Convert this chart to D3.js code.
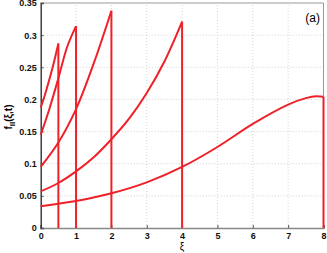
<!DOCTYPE html>
<meta charset="utf-8">
<title>f_II(xi,t)</title>
<script src="https://d3js.org/d3.v7.min.js"></script>
<style>
  body { margin: 0; background: #fff; }
  text { font-family: "Liberation Sans", Arial, sans-serif; }
</style>
<body>
<script>

// chart size
const width = 327, height = 253;
const margin = { top: 3, right: 3.5, bottom: 25, left: 40.7 };

// data: one curve per domain length L
const lengths = [0.5, 1, 2, 4, 8];
const xi05 = [0, 0.125, 0.25, 0.375, 0.5];
const f05 = [0.187, 0.208, 0.232, 0.258, 0.287];
const xi1 = [0, 0.25, 0.5, 0.75, 1];
const f1 = [0.145, 0.186, 0.233, 0.282, 0.314];
const xi2 = [0, 0.5, 1, 1.5, 2];
const f2 = [0.095, 0.133, 0.185, 0.256, 0.338];
const xi4 = [0, 0.5, 1, 1.5, 2, 2.5, 3, 3.5, 4];
const f4 = [0.057, 0.07, 0.088, 0.11, 0.138, 0.17, 0.21, 0.259, 0.321];
const xi8 = [0, 1, 2, 3, 4, 5, 6, 7, 7.5, 7.8, 8];
const f8 = [0.034, 0.042, 0.054, 0.071, 0.095, 0.126, 0.162, 0.192, 0.202, 0.205, 0.204];

const xTicks = [0, 1, 2, 3, 4, 5, 6, 7, 8];
const yTicks = [0, 0.05, 0.1, 0.15, 0.2, 0.25, 0.3, 0.35];

const series = [[xi05, f05], [xi1, f1], [xi2, f2], [xi4, f4], [xi8, f8]];

const svg = d3.select("body").append("svg")
  .attr("width", width)
  .attr("height", height);

const x = d3.scaleLinear().domain([0, 8]).range([margin.left, width - margin.right]);
const y = d3.scaleLinear().domain([0, 0.35]).range([height - margin.bottom, margin.top]);

// grid
svg.append("g")
  .selectAll("line.gx")
  .data(xTicks.slice(1, -1))
  .enter().append("line")
  .attr("x1", d => x(d)).attr("x2", d => x(d))
  .attr("y1", y(0)).attr("y2", y(0.35))
  .attr("stroke", "#c8c8c8").attr("stroke-width", 0.8)
  .attr("stroke-dasharray", "1,2");
svg.append("g")
  .selectAll("line.gy")
  .data(yTicks.slice(1, -1))
  .enter().append("line")
  .attr("x1", x(0)).attr("x2", x(8))
  .attr("y1", d => y(d)).attr("y2", d => y(d))
  .attr("stroke", "#c8c8c8").attr("stroke-width", 0.8)
  .attr("stroke-dasharray", "1,2");

// box top/right
svg.append("path")
  .attr("d", `M${x(0)},${y(0.35)}H${x(8)}V${y(0)}`)
  .attr("fill", "none").attr("stroke", "#999").attr("stroke-width", 1);

// axes
const xAxis = svg.append("g")
  .attr("transform", `translate(0,${y(0)})`)
  .call(d3.axisBottom(x).tickValues(xTicks).tickSize(-3).tickPadding(5).tickFormat(d3.format("d")));
const yAxis = svg.append("g")
  .attr("transform", `translate(${x(0)},0)`)
  .call(d3.axisLeft(y).tickValues(yTicks).tickSize(-3).tickPadding(4).tickFormat(d => d === 0 ? "0" : String(+d.toFixed(2))));

xAxis.select(".domain").attr("stroke", "#888").attr("stroke-width", 1.6);
yAxis.select(".domain").attr("stroke", "#222").attr("stroke-width", 1.3);
svg.selectAll(".tick line").attr("stroke", "#555");
svg.selectAll(".tick text")
  .attr("fill", "#111")
  .style("font-size", "9px")
  .style("font-weight", "bold");

// curves
const line = d3.line()
  .x(d => x(d[0]))
  .y(d => y(d[1]))
  .curve(d3.curveCatmullRom.alpha(0.5));

series.forEach(function(s, i) {
  const pts = s[0].map((v, j) => [v, s[1][j]]);
  svg.append("path")
    .attr("d", line(pts))
    .attr("fill", "none")
    .attr("stroke", "#ee2129")
    .attr("stroke-width", 2);
  // vertical drop at xi = L
  svg.append("line")
    .attr("x1", x(lengths[i])).attr("x2", x(lengths[i]))
    .attr("y1", y(s[1][s[1].length - 1])).attr("y2", y(0))
    .attr("stroke", "#ee2129")
    .attr("stroke-width", 2);
});

// labels
svg.append("text")
  .attr("x", x(4))
  .attr("y", 250)
  .attr("text-anchor", "middle")
  .style("font-size", "10px")
  .text("ξ");

const yl = svg.append("text")
  .attr("transform", "translate(12,117) rotate(-90)")
  .attr("text-anchor", "middle")
  .style("font-size", "10px")
  .style("font-weight", "bold");
yl.append("tspan").text("f");
yl.append("tspan").attr("dy", 3).style("font-size", "8px").text("II");
yl.append("tspan").attr("dy", -3).text("(ξ,t)");

svg.append("text")
  .attr("x", 320)
  .attr("y", 22)
  .attr("text-anchor", "end")
  .style("font-size", "12px")
  .text("(a)");

</script>
</body>
